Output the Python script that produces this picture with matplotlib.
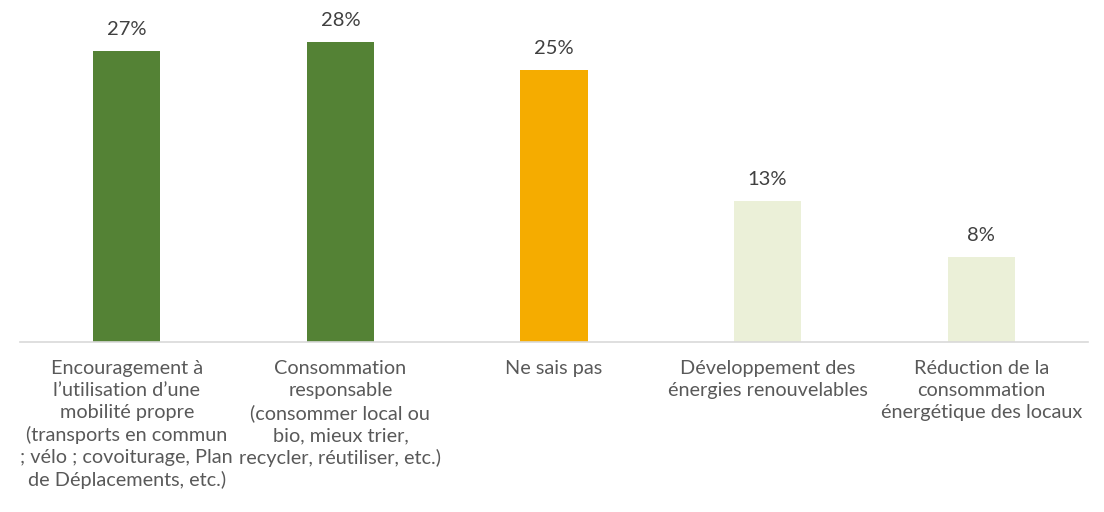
import matplotlib.pyplot as plt
import numpy as np

categories = [
    "Encouragement à\nl\u2019utilisation d\u2019une\nmobilité propre\n(transports en commun\n; vélo ; covoiturage, Plan\nde Déplacements, etc.)",
    "Consommation\nresponsable\n(consommer local ou\nbio, mieux trier,\nrecycler, réutiliser, etc.)",
    "Ne sais pas",
    "Développement des\nénergies renouvelables",
    "Réduction de la\nconsommation\nénergétique des locaux",
]
values = [27.2, 28.0, 25.4, 13.2, 7.9]
colors = ["#548235", "#548235", "#F5AC00", "#EBF0D8", "#EBF0D8"]

plt.rcParams['font.family'] = ['Lato', 'DejaVu Sans']

fig = plt.figure(figsize=(11.04, 5.12), dpi=100)
# axis line spans x 20..1088 px, baseline at y=342 px
ax = fig.add_axes([20 / 1104, (512 - 342) / 512, 1068 / 1104, 321 / 512])

x = np.arange(len(values))
ax.bar(x, values, width=0.315, color=colors)
ax.set_xlim(-0.5, len(values) - 0.5)
ax.set_ylim(0, 30)

for xi, v in zip(x, values):
    ax.annotate(f"{v:.0f}%", (xi, v), xytext=(0, 9.5), textcoords="offset points",
                ha="center", va="bottom", fontsize=14.5, color="#404040")

for xi, lab in zip(x, categories):
    ax.annotate(lab, (xi, 0), xytext=(0, -13), textcoords="offset points",
                ha="center", va="top", fontsize=14.3, color="#595959",
                linespacing=1.35)

ax.set_xticks([])
ax.set_yticks([])
for s in ["top", "right", "left"]:
    ax.spines[s].set_visible(False)
ax.spines["bottom"].set_color("#D9D9D9")
ax.spines["bottom"].set_linewidth(1.2)

fig.savefig("out.png", dpi=100)
